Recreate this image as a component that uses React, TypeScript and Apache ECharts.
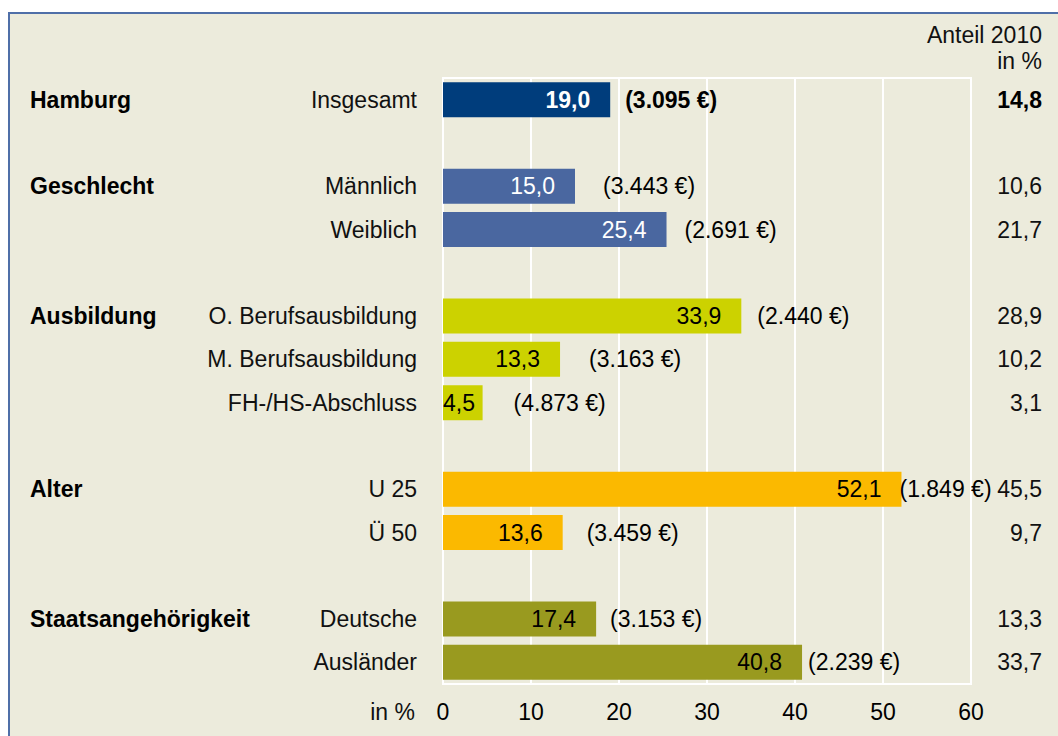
import React, { useEffect, useRef } from "react";
import * as echarts from "echarts";

const FONT = "'Liberation Sans', Arial, sans-serif";

// Rows (blank names are spacer rows between groups)
const categories = [
  "Insgesamt", " ", "Männlich", "Weiblich", "  ",
  "O. Berufsausbildung", "M. Berufsausbildung", "FH-/HS-Abschluss", "   ",
  "U 25", "Ü 50", "    ", "Deutsche", "Ausländer",
];
const rowGroup = [
  "Hamburg", "", "Geschlecht", "Geschlecht", "",
  "Ausbildung", "Ausbildung", "Ausbildung", "",
  "Alter", "Alter", "", "Staatsangehörigkeit", "Staatsangehörigkeit",
];
// Quote in %
const quote = [19.0, null, 15.0, 25.4, null, 33.9, 13.3, 4.5, null, 52.1, 13.6, null, 17.4, 40.8];
// Betrag in €
const betrag = ["3.095", "", "3.443", "2.691", "", "2.440", "3.163", "4.873", "", "1.849", "3.459", "", "3.153", "2.239"];
// Anteil 2010 in %
const anteil2010 = [14.8, null, 10.6, 21.7, null, 28.9, 10.2, 3.1, null, 45.5, 9.7, null, 13.3, 33.7];
const xMin = 0;
const xMax = 60;
const xStep = 10;

// styles
const groupColors: Record<string, string> = {
  Hamburg: "#003D7C",
  Geschlecht: "#4A67A0",
  Ausbildung: "#CCD200",
  Alter: "#FBB900",
  "Staatsangehörigkeit": "#999A1F",
};
const whiteLabelGroups = ["Hamburg", "Geschlecht"];
const euroLabelGap = [15, 0, 28, 18, 0, 16, 29, 31, 0, -2, 24, 0, 14, 6];

const fmt = (v: number) => v.toFixed(1).replace(".", ",");

export default function App() {
  const ref = useRef<HTMLDivElement>(null);
  useEffect(() => {
    if (!ref.current) return;
    const chart = echarts.init(ref.current, null, { renderer: "svg" });
    const firstOfGroup = rowGroup.map((g, i) => (g && rowGroup.indexOf(g) === i ? g : ""));

    const valueData = quote.map((v, i) => {
      if (v == null) return null;
      const g = rowGroup[i];
      const small = v < 10;
      return {
        value: v,
        itemStyle: { color: groupColors[g] },
        label: {
          position: small ? "insideLeft" : "insideRight",
          distance: small ? 0 : 20,
          color: whiteLabelGroups.includes(g) ? "#fff" : "#000",
          fontWeight: i === 0 ? "bold" : "normal",
        },
      };
    });
    const euroData = quote.map((v, i) =>
      v == null
        ? null
        : { value: v, label: { distance: euroLabelGap[i], fontWeight: i === 0 ? "bold" : "normal" } }
    );

    const option: any = {
      animation: false,
      textStyle: { fontFamily: FONT },
      grid: {
        left: 433, top: 64, width: 528, height: 606,
        show: true, borderColor: "#ffffff", borderWidth: 2, backgroundColor: "transparent",
      },
      xAxis: {
        type: "value", min: xMin, max: xMax, interval: xStep,
        axisLine: { show: false }, axisTick: { show: false },
        splitLine: { lineStyle: { color: "#ffffff", width: 2 } },
        axisLabel: { fontSize: 23, color: "#000", margin: 16, fontFamily: FONT },
      },
      yAxis: [
        {
          type: "category", inverse: true, data: categories, position: "left",
          axisLine: { show: false }, axisTick: { show: false },
          axisLabel: {
            fontSize: 23, color: "#111", margin: 26, fontFamily: FONT,
            formatter: (v: string) => v.trim(),
          },
        },
        {
          type: "category", inverse: true, data: categories, position: "right",
          axisLine: { show: false }, axisTick: { show: false },
          axisLabel: {
            align: "right", margin: 71, fontSize: 23, color: "#111", fontFamily: FONT,
            formatter: (_v: string, i: number) => {
              const a = anteil2010[i];
              if (a == null) return "";
              return i === 0 ? `{b|${fmt(a)}}` : fmt(a);
            },
            rich: { b: { fontWeight: "bold", fontSize: 23, fontFamily: FONT, color: "#000" } },
          },
        },
        {
          type: "category", inverse: true, data: categories, position: "left",
          axisLine: { show: false }, axisTick: { show: false },
          axisLabel: {
            align: "left", margin: 413, fontSize: 23, fontWeight: "bold", color: "#000", fontFamily: FONT,
            formatter: (_v: string, i: number) => firstOfGroup[i],
          },
        },
      ],
      series: [
        {
          type: "bar", name: "Betrag", yAxisIndex: 0, data: euroData, barWidth: 35, barGap: "-100%",
          itemStyle: { color: "rgba(0,0,0,0)" }, silent: true,
          label: {
            show: true, position: "right", fontSize: 23, color: "#000", fontFamily: FONT,
            formatter: (p: any) => `(${betrag[p.dataIndex]} €)`,
          },
        },
        {
          type: "bar", name: "Quote", yAxisIndex: 0, data: valueData, barWidth: 35, barGap: "-100%",
          label: {
            show: true, fontSize: 23, fontFamily: FONT,
            formatter: (p: any) => fmt(p.value),
          },
        },
      ],
      graphic: [
        {
          type: "text", x: 1032, y: 21,
          style: { text: "Anteil 2010", align: "right", verticalAlign: "middle", fontSize: 23, fontFamily: FONT, fill: "#111" },
        },
        {
          type: "text", x: 1032, y: 47,
          style: { text: "in %", align: "right", verticalAlign: "middle", fontSize: 23, fontFamily: FONT, fill: "#111" },
        },
        {
          type: "text", x: 405, y: 698,
          style: { text: "in %", align: "right", verticalAlign: "middle", fontSize: 23, fontFamily: FONT, fill: "#111" },
        },
      ],
    };
    chart.setOption(option);
    return () => chart.dispose();
  }, []);

  return (
    <div
      style={{
        position: "fixed", left: 8, top: 12, width: 1050, height: 724,
        background: "#ECEBDC", borderLeft: "2px solid #4F6FA8", borderTop: "2px solid #4F6FA8",
        boxSizing: "border-box",
      }}
    >
      <div ref={ref} style={{ width: 1048, height: 722 }} />
    </div>
  );
}
